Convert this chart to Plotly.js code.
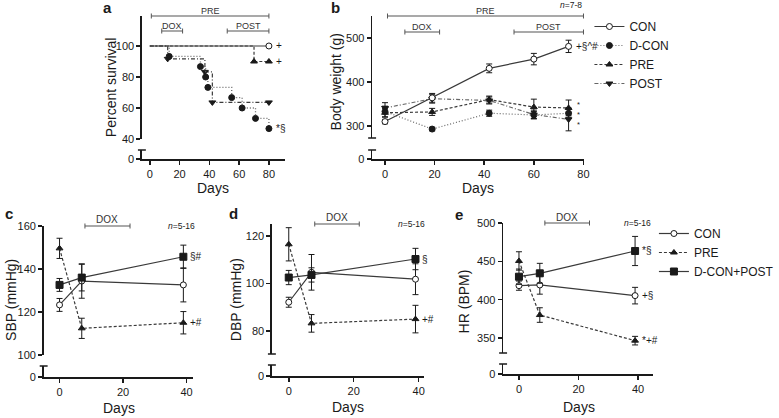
<!DOCTYPE html>
<html><head><meta charset="utf-8">
<script src="https://cdn.plot.ly/plotly-3.0.1.min.js"></script>
<style>html,body{margin:0;padding:0;background:#fff}#plot{width:779px;height:418px}</style>
</head><body><div id="plot"></div>
<script>
// ---------- DATA ----------
// Panel a: Kaplan-Meier survival (%)
const aConDays = [0, 80];
const aConSurv = [100, 100];
const aDconDays = [0, 13, 34, 37.5, 39, 55, 62, 71, 80];
const aDconSurv = [100, 93.3, 86.7, 80, 73.3, 66.7, 60, 53.3, 46.7];
const aPreDays = [0, 70, 80];
const aPreSurv = [100, 90, 90];
const aPostDays = [0, 12, 37, 42, 80];
const aPostSurv = [100, 91.7, 83.3, 63.6, 63.6];
// Panel b: body weight (g)
const bDays = [0, 19, 42, 60, 74];
const bCon = [310, 364, 431, 452, 481];
const bConErr = [5, 10, 10, 13, 14];
const bDcon = [333, 293, 329, 325, 329];
const bDconErr = [12, 4, 7, 8, 10];
const bPre = [330, 332, 360, 343, 341];
const bPreErr = [10, 8, 8, 18, 18];
const bPost = [341, 362, 358, 326, 315];
const bPostErr = [12, 10, 8, 10, 26];
// Panels c-e
const bpDays = [0, 7, 39];
const cCon = [123.3, 134.4, 132.6], cConErr = [3, 8, 7.9];
const cPre = [149.6, 112.4, 115.0], cPreErr = [4.7, 4.7, 5.2];
const cDp = [132.6, 136.0, 145.7], cDpErr = [3, 6.2, 5.4];
const dCon = [92.1, 104.7, 101.8], dConErr = [2.1, 7.5, 6.5];
const dPre = [116.5, 83.2, 85.0], dPreErr = [7, 3.7, 5.8];
const dDp = [102.5, 103.6, 110.3], dDpErr = [3, 3, 4.5];
const eCon = [418.3, 419.2, 405.3], eConErr = [6, 12, 10.8];
const ePre = [450.5, 380.0, 346.6], ePreErr = [12, 9.5, 5.6];
const eDp = [430.0, 434.4, 463.5], eDpErr = [10, 13, 19];
// tick labels
const ticksA = [40, 60, 80, 100], ticksB = [300, 400, 500];
const ticksC = [100, 120, 140, 160], ticksD = [80, 100, 120], ticksE = [350, 400, 450, 500];
const ticksX80 = [0, 20, 40, 60, 80], ticksX40 = [0, 20, 40];

// ---------- STYLE / LAYOUT ----------
const W = 779, H = 418;
const fx = p => p / W, fy = p => 1 - p / H;
const F = 'Liberation Sans, Arial, sans-serif';
const K = '#1a1a1a';
const cSolid = '#3a3a3a', cDot = '#666', cDash = '#3a3a3a';

function xAx(l, r, range, anchor, tv) {
  return {domain: [fx(l), fx(r)], range, anchor, showline: true, linewidth: 1.5, linecolor: K,
    ticks: 'outside', ticklen: 4, tickwidth: 1.5, tickcolor: K, tickvals: tv, showgrid: false,
    zeroline: false, tickfont: {family: F, size: 11, color: K}, fixedrange: true};
}
function yAx(top, bot, range, anchor, tv) {
  return {domain: [fy(bot), fy(top)], range, anchor, showline: true, linewidth: 1.5, linecolor: K,
    ticks: 'outside', ticklen: 4, tickwidth: 1.5, tickcolor: K, tickvals: tv, showgrid: false,
    zeroline: false, tickfont: {family: F, size: 11, color: K}, fixedrange: true};
}

const traces = [];
const err = (arr) => ({type: 'data', array: arr, visible: true, color: K, thickness: 1, width: 3});
function kmTrace(days, surv, name, dash, color, sym, msize, lineW, fill) {
  traces.push({x: days, y: surv, xaxis: 'x', yaxis: 'y', mode: 'lines', name,
    line: {shape: 'hv', dash, color, width: lineW}, showlegend: false, hoverinfo: 'skip'});
  traces.push({x: days.slice(1), y: surv.slice(1), xaxis: 'x', yaxis: 'y', mode: 'markers', name,
    marker: {symbol: sym, size: msize, color: fill, opacity: 1, line: {color: K, width: 1}}, showlegend: false});
}
kmTrace(aPreDays, aPreSurv, 'PRE', '3px,2px', cDash, 'triangle-up', 6, 1.2, K);
kmTrace(aPostDays, aPostSurv, 'POST', '4px,2px,1px,2px', cDash, 'triangle-down', 6, 1.2, K);
kmTrace(aDconDays, aDconSurv, 'D-CON', '1px,2px', cDot, 'circle', 6, 1.3, K);
kmTrace(aConDays, aConSurv, 'CON', 'solid', cSolid, 'circle', 6, 1.2, '#fff');

function lineTrace(xa, ya, x, y, e, name, dash, color, sym, msize, legend, show, rank) {
  traces.push({x, y, xaxis: xa, yaxis: ya, mode: 'lines+markers', name, error_y: err(e),
    line: {dash, color, width: 1.2},
    marker: {symbol: sym, size: msize, color: sym === 'circle' && name === 'CON' ? '#fff' : K, opacity: 1, line: {color: K, width: 1}},
    legend, showlegend: show, legendrank: rank});
}
lineTrace('x2', 'y3', bDays, bDcon, bDconErr, 'D-CON', '1px,2px', cDot, 'circle', 6, 'legend', true, 2);
lineTrace('x2', 'y3', bDays, bPre, bPreErr, 'PRE', '3px,2px', cDash, 'triangle-up', 6, 'legend', true, 3);
lineTrace('x2', 'y3', bDays, bPost, bPostErr, 'POST', '4px,2px,1px,2px', cDot, 'triangle-down', 6, 'legend', true, 4);
lineTrace('x2', 'y3', bDays, bCon, bConErr, 'CON', 'solid', cSolid, 'circle', 6, 'legend', true, 1);

lineTrace('x3', 'y5', bpDays, cCon, cConErr, 'CON', 'solid', cSolid, 'circle', 6, 'legend2', true, 1);
lineTrace('x3', 'y5', bpDays, cPre, cPreErr, 'PRE', '3px,2px', cDash, 'triangle-up', 6, 'legend2', true, 2);
lineTrace('x3', 'y5', bpDays, cDp, cDpErr, 'D-CON+POST', 'solid', cSolid, 'square', 7, 'legend2', true, 3);
lineTrace('x4', 'y7', bpDays, dCon, dConErr, 'CON', 'solid', cSolid, 'circle', 6, 'legend2', false, 1);
lineTrace('x4', 'y7', bpDays, dPre, dPreErr, 'PRE', '3px,2px', cDash, 'triangle-up', 6, 'legend2', false, 2);
lineTrace('x4', 'y7', bpDays, dDp, dDpErr, 'D-CON+POST', 'solid', cSolid, 'square', 7, 'legend2', false, 3);
lineTrace('x5', 'y9', bpDays, eCon, eConErr, 'CON', 'solid', cSolid, 'circle', 6, 'legend2', false, 1);
lineTrace('x5', 'y9', bpDays, ePre, ePreErr, 'PRE', '3px,2px', cDash, 'triangle-up', 6, 'legend2', false, 2);
lineTrace('x5', 'y9', bpDays, eDp, eDpErr, 'D-CON+POST', 'solid', cSolid, 'square', 7, 'legend2', false, 3);
// empty traces so the stub axes get subplots
[['x', 'y2'], ['x2', 'y4'], ['x3', 'y6'], ['x4', 'y8'], ['x5', 'y10']].forEach(([xa, ya]) =>
  traces.push({x: [], y: [], xaxis: xa, yaxis: ya, mode: 'markers', showlegend: false, hoverinfo: 'skip'}));

const shapes = [], ann = [];
// axis-break caps
[[143, 150], [375, 150], [375, 138], [44, 366], [274, 365], [274, 354], [507, 364], [507, 353]].forEach(([ax, py]) => {
  shapes.push({type: 'line', xref: 'paper', yref: 'paper', x0: fx(ax - 4), x1: fx(ax + 4), y0: fy(py), y1: fy(py), line: {color: K, width: 1.5}});
});
// treatment bars
function bar(xref, x0, x1, py, label, lpy, fs) {
  const g = '#555';
  shapes.push({type: 'line', xref, yref: 'paper', x0, x1, y0: fy(py), y1: fy(py), line: {color: g, width: 1.2}});
  [x0, x1].forEach(x => shapes.push({type: 'line', xref, yref: 'paper', x0: x, x1: x, y0: fy(py - 2.5), y1: fy(py + 2.5), line: {color: g, width: 1}}));
  ann.push({xref, yref: 'paper', x: (x0 + x1) / 2, y: fy(lpy), text: label, showarrow: false, font: {family: F, size: fs, color: '#333'}, xanchor: 'center', yanchor: 'middle'});
}
bar('x', 1, 80, 16, 'PRE', 10.5, 9);
bar('x', 8, 22, 31, 'DOX', 26, 9);
bar('x', 52, 80, 31, 'POST', 26, 9);
bar('x2', 1, 80, 16, 'PRE', 10.5, 9);
bar('x2', 8, 22, 32, 'DOX', 26.5, 9);
bar('x2', 52, 80, 32, 'POST', 26.5, 9);
bar('x3', 8, 22.2, 226, 'DOX', 219.5, 10);
bar('x4', 8, 21.7, 224, 'DOX', 218, 10);
bar('x5', 8.7, 23.7, 223, 'DOX', 217, 10);

function txt(px, py, text, size, opts = {}) {
  ann.push(Object.assign({xref: 'paper', yref: 'paper', x: fx(px), y: fy(py), text, showarrow: false,
    font: {family: F, size, color: K}, xanchor: 'center', yanchor: 'middle'}, opts));
}
// panel letters
txt(108, 8, '<b>a</b>', 15); txt(338, 8, '<b>b</b>', 15);
txt(9, 213, '<b>c</b>', 15); txt(235, 213, '<b>d</b>', 15); txt(463, 215, '<b>e</b>', 15);
// axis titles
txt(215, 188, 'Days', 14); txt(482, 188, 'Days', 14);
txt(120, 408, 'Days', 14); txt(351, 407, 'Days', 14); txt(583, 407, 'Days', 14);
txt(112, 87, 'Percent survival', 14, {textangle: -90});
txt(339, 82, 'Body weight (g)', 14, {textangle: -90});
txt(11, 300, 'SBP (mmHg)', 14, {textangle: -90});
txt(238, 300, 'DBP (mmHg)', 14, {textangle: -90});
txt(468, 301, 'HR (BPM)', 14, {textangle: -90});
// n labels
txt(575, 5, '<i>n</i>=7-8', 8.5); txt(183, 226, '<i>n</i>=5-16', 8.5);
txt(415, 224, '<i>n</i>=5-16', 8.5); txt(642, 223, '<i>n</i>=5-16', 8.5);
// significance marks at last points
function sig(xref, yref, xs, ys, text, shift = 5, yshift = 0, size = 10) {
  ann.push({xref, yref, x: xs[xs.length - 1], y: ys[ys.length - 1], text, showarrow: false, xanchor: 'left', yanchor: 'middle',
    xshift: shift, yshift, font: {family: F, size, color: K}});
}
sig('x', 'y', aConDays, aConSurv, '+');
sig('x', 'y', aPreDays, aPreSurv, '+');
sig('x', 'y', aDconDays, aDconSurv, '*§');
sig('x2', 'y3', bDays, bCon, '+§^#');
// stacked stars for PRE / D-CON / POST at the last body-weight point (one wrapped text)
ann.push({xref: 'x2', yref: 'y3', x: bDays[bDays.length - 1], y: (bPre[bPre.length - 1] + bPost[bPost.length - 1]) / 2,
  text: '*<br>*<br>*', showarrow: false, xanchor: 'left', yanchor: 'middle', xshift: 6, yshift: -1,
  font: {family: F, size: 7.5, color: K}});
sig('x3', 'y5', bpDays, cDp, '§#');
sig('x3', 'y5', bpDays, cPre, '+#');
sig('x4', 'y7', bpDays, dDp, '§');
sig('x4', 'y7', bpDays, dPre, '+#');
sig('x5', 'y9', bpDays, eDp, '*§');
sig('x5', 'y9', bpDays, eCon, '+§');
sig('x5', 'y9', bpDays, ePre, '*+#');

const stubTV = [0];
const layout = {
  width: W, height: H, margin: {l: 0, r: 0, t: 0, b: 0}, paper_bgcolor: '#fff', plot_bgcolor: 'rgba(0,0,0,0)',
  font: {family: F, color: K},
  xaxis: xAx(143, 287, [-5.33, 90.67], 'y2', ticksX80),
  yaxis: yAx(16, 139, [40, 119.35], 'x', ticksA),
  yaxis2: yAx(150, 159, [0, 1], 'x', stubTV),
  xaxis2: xAx(375, 589, [-5.2, 80.4], 'y4', ticksX80),
  yaxis3: yAx(16, 138, [272.7, 550], 'x2', ticksB),
  yaxis4: yAx(150, 159, [0, 1], 'x2', stubTV),
  xaxis3: xAx(44, 195, [-5, 42.19], 'y6', ticksX40),
  yaxis5: yAx(226, 355, [100, 160], 'x3', ticksC),
  yaxis6: yAx(366, 377, [0, 1], 'x3', stubTV),
  xaxis4: xAx(274, 427, [-5.19, 41.53], 'y8', ticksX40),
  yaxis7: yAx(224, 354, [70.3, 125.05], 'x4', ticksD),
  yaxis8: yAx(365, 376, [0, 1], 'x4', stubTV),
  xaxis5: xAx(507, 658, [-5.33, 45], 'y10', ticksX40),
  yaxis9: yAx(223, 353, [330.5, 500], 'x5', ticksE),
  yaxis10: yAx(364, 374, [0, 1], 'x5', stubTV),
  legend: {x: fx(594), y: fy(12), xanchor: 'left', yanchor: 'top', bgcolor: 'rgba(0,0,0,0)', font: {family: F, size: 12, color: K}, traceorder: 'normal', itemclick: false},
  legend2: {x: fx(659), y: fy(219), xanchor: 'left', yanchor: 'top', bgcolor: 'rgba(0,0,0,0)', font: {family: F, size: 12, color: K}, traceorder: 'normal', itemclick: false},
  shapes, annotations: ann, showlegend: true
};
Plotly.newPlot('plot', traces, layout, {staticPlot: true, displayModeBar: false});
</script></body></html>
